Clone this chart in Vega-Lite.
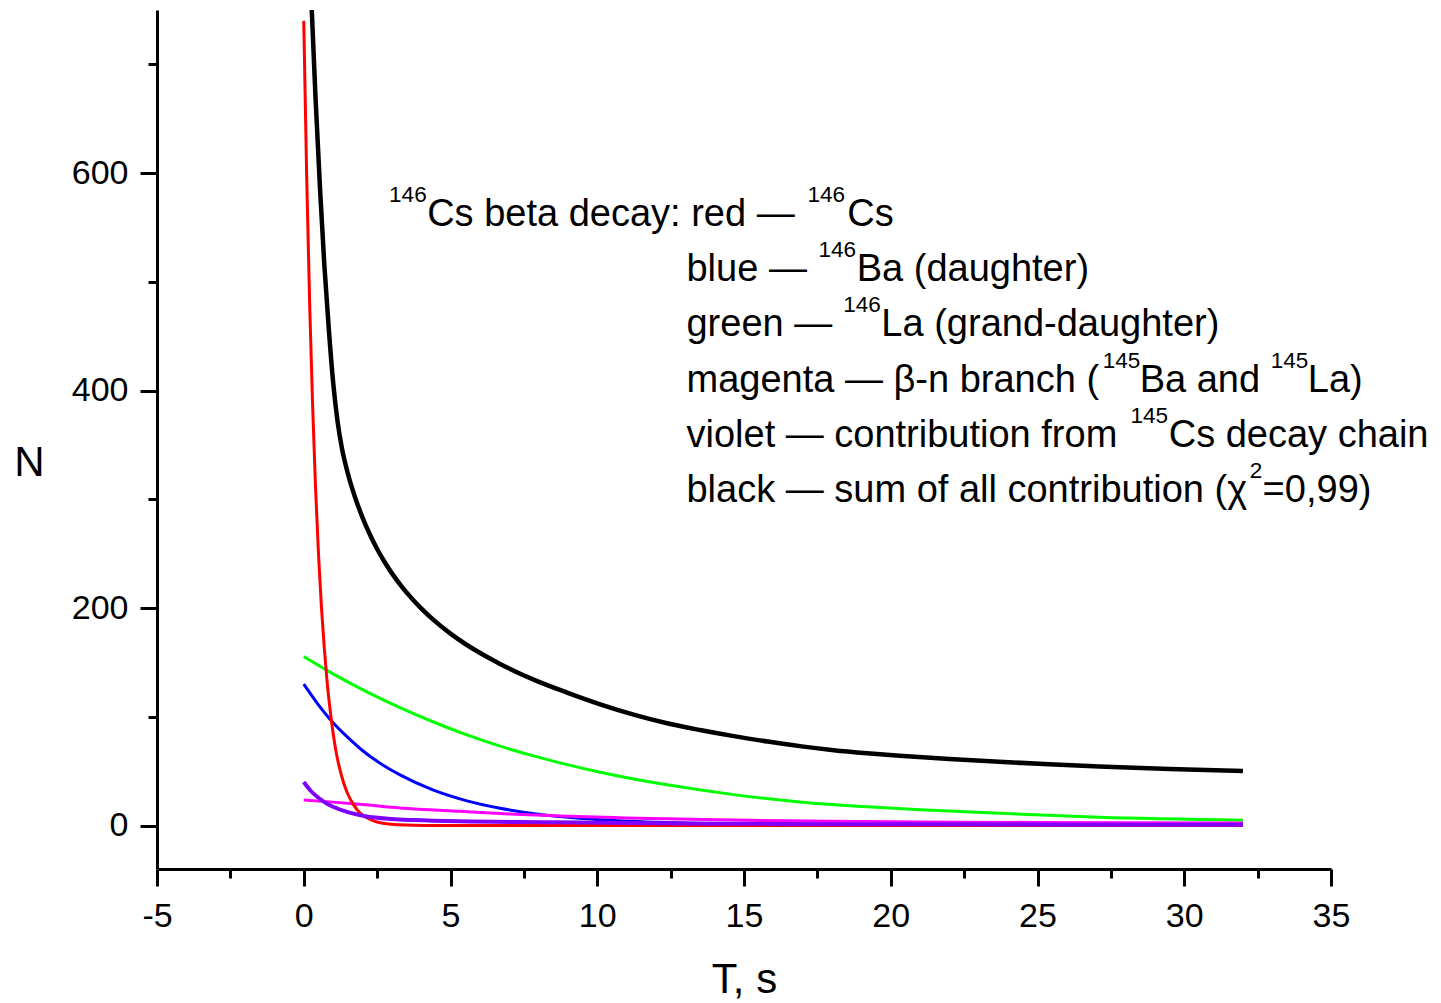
{
  "$schema": "https://vega.github.io/schema/vega-lite/v6.json",
  "width": 1174,
  "height": 859,
  "autosize": {"type": "none"},
  "padding": {"left": 157, "top": 10, "right": 110, "bottom": 134},
  "background": "white",
  "config": {
    "view": {"stroke": null},
    "font": "Liberation Sans",
    "axis": {
      "domainColor": "black",
      "domainWidth": 3,
      "tickColor": "black",
      "tickWidth": 3,
      "labelColor": "black",
      "labelFont": "Liberation Sans",
      "labelFontSize": 34,
      "titleFont": "Liberation Sans",
      "titleFontSize": 42,
      "titleFontWeight": "normal",
      "titleColor": "black",
      "grid": false,
      "labelFlush": false,
      "labelOverlap": false
    }
  },
  "datasets": {
    "red": [
      {"t": 0, "n": 740}, {"t": 0.1, "n": 597}, {"t": 0.2, "n": 481}, {"t": 0.3, "n": 388},
      {"t": 0.4, "n": 312}, {"t": 0.5, "n": 251}, {"t": 0.6, "n": 202}, {"t": 0.7, "n": 163},
      {"t": 0.8, "n": 131}, {"t": 0.9, "n": 106}, {"t": 1.0, "n": 85}, {"t": 1.1, "n": 68},
      {"t": 1.2, "n": 55}, {"t": 1.35, "n": 40}, {"t": 1.5, "n": 29}, {"t": 1.7, "n": 19},
      {"t": 1.9, "n": 12}, {"t": 2.15, "n": 7.2}, {"t": 2.4, "n": 4.1}, {"t": 2.7, "n": 2.1},
      {"t": 3.0, "n": 1.1}, {"t": 3.5, "n": 0.4}, {"t": 4.2, "n": 0.1}, {"t": 5, "n": 0},
      {"t": 10, "n": 0}, {"t": 20, "n": 0}, {"t": 32, "n": 0}
    ],
    "blue": [
      {"t": 0, "n": 130}, {"t": 0.5, "n": 111}, {"t": 1, "n": 94.5}, {"t": 1.5, "n": 81},
      {"t": 2, "n": 69}, {"t": 2.5, "n": 59}, {"t": 3.28, "n": 46.5}, {"t": 4.42, "n": 32.5},
      {"t": 5.56, "n": 22.7}, {"t": 6.69, "n": 15.9}, {"t": 8, "n": 10.4}, {"t": 10, "n": 5.6},
      {"t": 12, "n": 3}, {"t": 15, "n": 1.2}, {"t": 20, "n": 0.3}, {"t": 25, "n": 0.1}, {"t": 32, "n": 0}
    ],
    "green": [
      {"t": 0, "n": 155.5}, {"t": 1, "n": 139.5}, {"t": 2, "n": 125}, {"t": 2.6, "n": 117},
      {"t": 3.28, "n": 108.5}, {"t": 4.42, "n": 95.2}, {"t": 5.56, "n": 83.3}, {"t": 6.69, "n": 73},
      {"t": 7.83, "n": 64}, {"t": 8.97, "n": 56}, {"t": 10.1, "n": 49}, {"t": 11.24, "n": 42.8},
      {"t": 12.38, "n": 37.4}, {"t": 14.65, "n": 28.4}, {"t": 16.9, "n": 21.7}, {"t": 19.2, "n": 17.2},
      {"t": 21, "n": 14.6}, {"t": 23.7, "n": 11.2}, {"t": 27.1, "n": 7.6}, {"t": 32, "n": 4.9}
    ],
    "magenta": [
      {"t": 0, "n": 23.5}, {"t": 1, "n": 21.5}, {"t": 2, "n": 19.3}, {"t": 3.28, "n": 16.2},
      {"t": 5.33, "n": 13}, {"t": 7, "n": 10.6}, {"t": 9, "n": 8.4}, {"t": 11, "n": 7},
      {"t": 12.8, "n": 6}, {"t": 14.65, "n": 5}, {"t": 18, "n": 3.9}, {"t": 21, "n": 3.3},
      {"t": 25, "n": 2.8}, {"t": 32, "n": 2.3}
    ],
    "violet": [
      {"t": 0, "n": 40}, {"t": 0.25, "n": 31.5}, {"t": 0.5, "n": 25.5}, {"t": 0.78, "n": 20.3},
      {"t": 1, "n": 17.3}, {"t": 1.5, "n": 12.3}, {"t": 2.1, "n": 8.5}, {"t": 3, "n": 6},
      {"t": 3.74, "n": 5}, {"t": 5.33, "n": 3.8}, {"t": 8.3, "n": 3}, {"t": 12.8, "n": 1.9},
      {"t": 16, "n": 1.5}, {"t": 21, "n": 1.1}, {"t": 26, "n": 0.8}, {"t": 32, "n": 0.6}
    ],
    "black": [
      {"t": 0.2, "n": 800}, {"t": 0.27, "n": 752}, {"t": 0.4, "n": 670}, {"t": 0.56, "n": 583},
      {"t": 0.7, "n": 516}, {"t": 0.85, "n": 458}, {"t": 1.0, "n": 408}, {"t": 1.15, "n": 372},
      {"t": 1.3, "n": 347}, {"t": 1.5, "n": 324}, {"t": 1.75, "n": 301.7}, {"t": 2.0, "n": 283.4},
      {"t": 2.25, "n": 267.8}, {"t": 2.5, "n": 254.3}, {"t": 2.75, "n": 242.6}, {"t": 3.0, "n": 232.1},
      {"t": 3.28, "n": 221.8}, {"t": 3.5, "n": 214.4}, {"t": 4.0, "n": 199.7}, {"t": 4.42, "n": 189.1},
      {"t": 5.0, "n": 176.5}, {"t": 5.56, "n": 166}, {"t": 6.1, "n": 157.2}, {"t": 6.69, "n": 148.6},
      {"t": 7.83, "n": 134.2}, {"t": 8.97, "n": 122.3}, {"t": 10.1, "n": 111.5}, {"t": 11.24, "n": 102},
      {"t": 12.38, "n": 94}, {"t": 13.5, "n": 87.8}, {"t": 14.65, "n": 82.2}, {"t": 15.8, "n": 77.3},
      {"t": 16.9, "n": 73}, {"t": 18.06, "n": 69.3}, {"t": 19.2, "n": 66.5}, {"t": 20.3, "n": 64.2},
      {"t": 22, "n": 61.2}, {"t": 23.7, "n": 58.6}, {"t": 25.4, "n": 56.3}, {"t": 27.1, "n": 54.3},
      {"t": 29.5, "n": 52}, {"t": 32, "n": 50.2}
    ],
    "labels": [
      {"x": 4.204, "y": 551.1, "text": "Cs beta decay: red —"},
      {"x": 18.52, "y": 551.1, "text": "Cs"},
      {"x": 13.04, "y": 500.5, "text": "blue —"},
      {"x": 18.84, "y": 500.5, "text": "Ba (daughter)"},
      {"x": 13.04, "y": 449.9, "text": "green —"},
      {"x": 19.68, "y": 449.9, "text": "La (grand-daughter)"},
      {"x": 13.04, "y": 398.4, "text": "magenta — β-n branch ("},
      {"x": 28.48, "y": 398.4, "text": "Ba and"},
      {"x": 34.21, "y": 398.4, "text": "La)"},
      {"x": 13.04, "y": 347.8, "text": "violet — contribution from"},
      {"x": 29.47, "y": 347.8, "text": "Cs decay chain"},
      {"x": 13.04, "y": 297.3, "text": "black — sum of all contribution (χ"},
      {"x": 32.67, "y": 297.3, "text": "=0,99)"}
    ],
    "sups": [
      {"x": 2.908, "y": 573.1, "text": "146"},
      {"x": 17.16, "y": 573.1, "text": "146"},
      {"x": 17.54, "y": 522.5, "text": "146"},
      {"x": 18.38, "y": 471.9, "text": "146"},
      {"x": 27.22, "y": 420.4, "text": "145"},
      {"x": 32.95, "y": 420.4, "text": "145"},
      {"x": 28.17, "y": 369.8, "text": "145"},
      {"x": 32.23, "y": 319.3, "text": "2"}
    ]
  },
  "layer": [
    {
      "data": {"name": "green"},
      "mark": {"type": "line", "color": "#00FF00", "strokeWidth": 3, "interpolate": "monotone", "clip": true},
      "encoding": {
        "x": {"field": "t", "type": "quantitative", "scale": {"domain": [-5, 35], "nice": false, "zero": false},
          "axis": {"orient": "bottom", "values": [-5, 0, 5, 10, 15, 20, 25, 30, 35], "tickSize": 17, "labelPadding": 13,
            "labelExpr": "replace(datum.label, '−', '-')",
            "title": "T, s", "titleBaseline": "alphabetic", "titleY": 123}},
        "y": {"field": "n", "type": "quantitative", "scale": {"domain": [-40, 750], "nice": false, "zero": false},
          "axis": {"orient": "left", "values": [0, 200, 400, 600], "tickSize": 17, "labelPadding": 12,
            "title": "N", "titleAngle": 0, "titleAlign": "center", "titleBaseline": "alphabetic", "titleX": -128, "titleY": 465}}
      }
    },
    {
      "data": {"name": "blue"},
      "mark": {"type": "line", "color": "#0000FF", "strokeWidth": 3, "interpolate": "monotone", "clip": true},
      "encoding": {
        "x": {"field": "t", "type": "quantitative", "axis": null},
        "y": {"field": "n", "type": "quantitative", "axis": null}
      }
    },
    {
      "data": {"name": "magenta"},
      "mark": {"type": "line", "color": "#FF00FF", "strokeWidth": 3, "interpolate": "monotone", "clip": true},
      "encoding": {
        "x": {"field": "t", "type": "quantitative", "axis": null},
        "y": {"field": "n", "type": "quantitative", "axis": null}
      }
    },
    {
      "data": {"name": "red"},
      "mark": {"type": "line", "color": "#FF0000", "strokeWidth": 3, "interpolate": "monotone", "clip": true},
      "encoding": {
        "x": {"field": "t", "type": "quantitative", "axis": null},
        "y": {"field": "n", "type": "quantitative", "axis": null}
      }
    },
    {
      "data": {"name": "violet"},
      "mark": {"type": "line", "color": "#8000FF", "strokeWidth": 4, "interpolate": "monotone", "clip": true},
      "encoding": {
        "x": {"field": "t", "type": "quantitative", "axis": null},
        "y": {"field": "n", "type": "quantitative", "axis": null}
      }
    },
    {
      "data": {"name": "black"},
      "mark": {"type": "line", "color": "#000000", "strokeWidth": 4.5, "interpolate": "monotone", "clip": true},
      "encoding": {
        "x": {"field": "t", "type": "quantitative", "axis": null},
        "y": {"field": "n", "type": "quantitative", "axis": null}
      }
    },
    {
      "data": {"name": "labels"},
      "mark": {"type": "text", "align": "left", "baseline": "alphabetic", "font": "Liberation Sans", "fontSize": 38, "color": "black"},
      "encoding": {
        "x": {"field": "x", "type": "quantitative",
          "axis": {"orient": "bottom", "values": [-2.5, 2.5, 7.5, 12.5, 17.5, 22.5, 27.5, 32.5], "labels": false, "domain": false, "tickSize": 9, "title": null}},
        "y": {"field": "y", "type": "quantitative",
          "axis": {"orient": "left", "values": [100, 300, 500, 700], "labels": false, "domain": false, "tickSize": 9, "title": null}},
        "text": {"field": "text"}
      }
    },
    {
      "data": {"name": "sups"},
      "mark": {"type": "text", "align": "left", "baseline": "alphabetic", "font": "Liberation Sans", "fontSize": 22.5, "color": "black"},
      "encoding": {
        "x": {"field": "x", "type": "quantitative", "axis": null},
        "y": {"field": "y", "type": "quantitative", "axis": null},
        "text": {"field": "text"}
      }
    }
  ],
  "resolve": {"axis": {"x": "independent", "y": "independent"}}
}
